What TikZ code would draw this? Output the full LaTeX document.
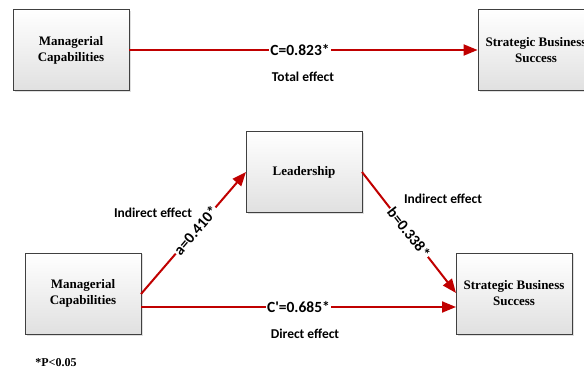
\documentclass[tikz,border=0pt]{standalone}
\usepackage{fontspec}
\setmainfont{Liberation Serif}
\newfontfamily\lblfont{Carlito}
\usetikzlibrary{arrows.meta,shadows}
\definecolor{arrowred}{HTML}{C00000}
\definecolor{boxedge}{HTML}{404040}
\tikzset{
  varbox/.style={draw=boxedge, line width=0.8pt, top color=white, bottom color=black!12,
    minimum width=116pt, minimum height=81pt, inner sep=0pt, align=center,
    font=\bfseries\fontsize{13}{16}\selectfont,
    drop shadow={shadow xshift=1.5pt, shadow yshift=-1.5pt, fill=black!25}},
  path/.style={draw=arrowred, line width=2pt, -{Triangle[length=14pt,width=11pt]}},
  coef/.style={font=\lblfont\bfseries\fontsize{15.5}{18}\selectfont, fill=white, inner sep=1pt},
  efflab/.style={font=\lblfont\bfseries\fontsize{13.5}{16}\selectfont, inner sep=0pt},
  note/.style={font=\bfseries\fontsize{12}{14}\selectfont, inner sep=0pt}
}
\begin{document}
\begin{tikzpicture}[x=1pt,y=-1pt]
\useasboundingbox (0,0) rectangle (584,374);
\begin{scope}
\clip (0,0) rectangle (584,374);
% top row
\node[varbox] (mc1) at (71,50) {Managerial\\Capabilities};
\node[varbox] (sbs1) at (536,50) {Strategic Business\\Success};
% bottom row
\node[varbox] (lead) at (304,172) {Leadership};
\node[varbox] (mc2) at (83,293.5) {Managerial\\Capabilities};
\node[varbox] (sbs2) at (514,293.5) {Strategic Business\\Success};
\end{scope}
% arrows
\draw[path] (mc1.east) -- (sbs1.west) node[coef, pos=0.49] (c) {C=0.823*};
\node[efflab] (tot) at (303,77) {Total effect};
\coordinate (aS) at (141,294);
\coordinate (aE) at (246,172);
\draw[path] (aS) -- (aE) node[coef, pos=0.52, sloped] (alab) {a=0.410*};
\coordinate (bS) at (362,172);
\coordinate (bE) at (456,293);
\draw[path] (bS) -- (bE) node[coef, pos=0.5, sloped] (blab) {b=0.338*};
\coordinate (dS) at (141,307);
\coordinate (dE) at (456,307);
\draw[path] (dS) -- (dE) node[coef, pos=0.5] (cp) {C'=0.685*};
\node[efflab] (ind1) at (153,213) {Indirect effect};
\node[efflab] (ind2) at (443,199) {Indirect effect};
\node[efflab] (dir) at (305,334) {Direct effect};
\node[note] (p) at (56,363) {*P<0.05};
\end{tikzpicture}
\end{document}
